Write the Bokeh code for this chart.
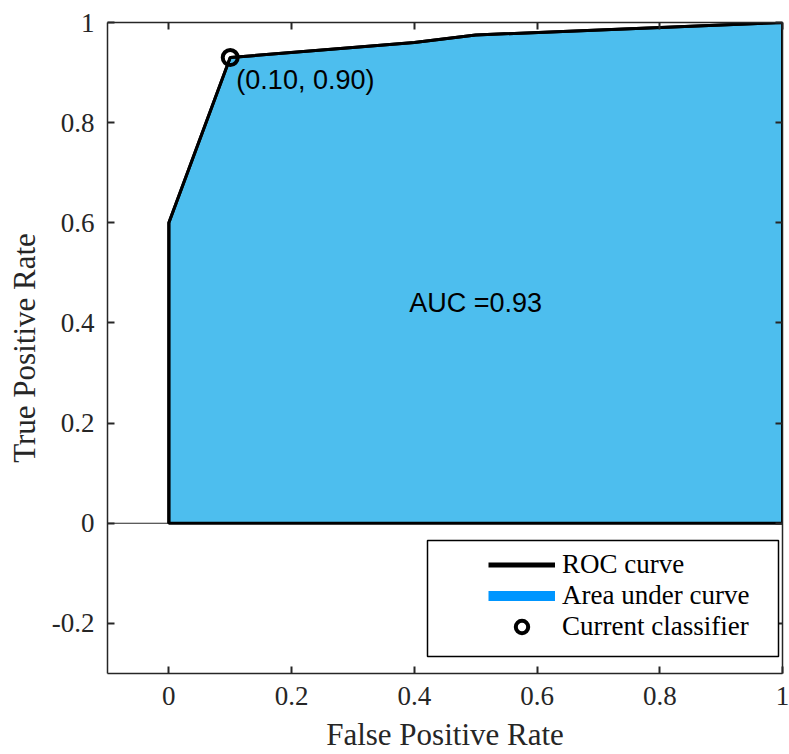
from bokeh.plotting import figure
from bokeh.models import (Range1d, LinearAxis, FixedTicker, Span, Label, Legend,
                          LegendItem, BoxAnnotation)
from bokeh.embed import file_html
from bokeh.resources import INLINE

# ---- data ----
fpr = [0.0, 0.0, 0.1, 0.4, 0.5, 1.0]
tpr = [0.0, 0.6, 0.93, 0.96, 0.975, 1.0]
cur_fpr = [0.10]
cur_tpr = [0.93]
cur_text = "(0.10, 0.90)"
auc_text = "AUC =0.93"
x_ticks = [0.0, 0.2, 0.4, 0.6, 0.8, 1.0]
x_tick_labels = ["0", "0.2", "0.4", "0.6", "0.8", "1"]
y_ticks = [-0.2, 0.0, 0.2, 0.4, 0.6, 0.8, 1.0]
y_tick_labels = ["-0.2", "0", "0.2", "0.4", "0.6", "0.8", "1"]
x_label = "False Positive Rate"
y_label = "True Positive Rate"
legend_labels = ["ROC curve", "Area under curve", "Current classifier"]

SERIF = "Liberation Serif"
SANS = "Liberation Sans"
AX = "#262626"
FILL = "#4DBEEE"

p = figure(width=789, height=754, output_backend="svg", toolbar_location=None,
           x_range=Range1d(-0.1, 1.0), y_range=Range1d(-0.3, 1.0),
           min_border_left=107, min_border_right=7, min_border_top=22,
           min_border_bottom=81, x_axis_location=None, y_axis_location=None)
p.outline_line_color = None
p.xgrid.visible = False
p.ygrid.visible = False
p.background_fill_color = "white"
p.border_fill_color = "white"


def style_axis(ax, ticks, labels, show_labels):
    ax.ticker = FixedTicker(ticks=ticks)
    ax.minor_tick_line_color = None
    ax.major_tick_in = 7
    ax.major_tick_out = 0
    ax.major_tick_line_width = 2
    ax.major_tick_line_color = AX
    ax.axis_line_color = AX
    ax.axis_line_width = 1.5
    if show_labels:
        ax.major_label_overrides = {t: l for t, l in zip(ticks, labels)}
        ax.major_label_text_font = SERIF
        ax.major_label_text_font_size = "27px"
        ax.major_label_text_color = AX
        ax.axis_label_text_font = SERIF
        ax.axis_label_text_font_size = "31px"
        ax.axis_label_text_font_style = "normal"
        ax.axis_label_text_color = AX
    else:
        ax.major_label_overrides = {t: "" for t in ticks}
        ax.major_label_standoff = 0


xb = LinearAxis(axis_label=x_label)
style_axis(xb, x_ticks, x_tick_labels, True)
xb.major_label_standoff = 13
xb.axis_label_standoff = 9
p.add_layout(xb, "below")

yl = LinearAxis(axis_label=y_label)
style_axis(yl, y_ticks, y_tick_labels, True)
yl.major_label_standoff = 13
yl.axis_label_standoff = 7
p.add_layout(yl, "left")

xt = LinearAxis()
style_axis(xt, x_ticks, x_tick_labels, False)
p.add_layout(xt, "above")

yr = LinearAxis()
style_axis(yr, y_ticks, y_tick_labels, False)
p.add_layout(yr, "right")

# area baseline
p.add_layout(Span(location=0, dimension="width", line_color=AX, line_width=1.2,
                  level="underlay"))

# area under curve (closed down to the baseline at the last fpr)
area_x = fpr + [fpr[-1]]
area_y = tpr + [0.0]
p.patch(area_x, area_y, fill_color=FILL, line_color="black", line_width=3)

p.line(fpr, tpr, line_color="black", line_width=3)
# single-point lines: draw nothing on the plot, only serve as legend keys
roc_key = p.line(fpr[:1], tpr[:1], line_color="black", line_width=5)
area_key = p.line(fpr[:1], tpr[:1], line_color="#0096FF", line_width=10)
cur = p.scatter(cur_fpr, cur_tpr, marker="circle", size=15, fill_color=None,
                line_color="black", line_width=4)

p.add_layout(Label(x=cur_fpr[0] + 0.01, y=cur_tpr[0] - 0.045, text=cur_text,
                   text_font=SANS, text_font_size="27px", text_color="black",
                   text_align="left", text_baseline="middle"))
p.add_layout(Label(x=0.5, y=0.44, text=auc_text, text_font=SANS,
                   text_font_size="27px", text_color="black",
                   text_align="center", text_baseline="middle"))

# legend frame
p.add_layout(BoxAnnotation(left=427, right=778, top=540, bottom=656,
                           left_units="canvas", right_units="canvas",
                           top_units="canvas", bottom_units="canvas",
                           fill_color="white", fill_alpha=1.0,
                           line_color="black", line_alpha=1.0, line_width=1.5))

legend = Legend(items=[LegendItem(label=legend_labels[0], renderers=[roc_key]),
                       LegendItem(label=legend_labels[1], renderers=[area_key]),
                       LegendItem(label=legend_labels[2], renderers=[cur])],
                location=(381, 31), padding=0, margin=0, spacing=0,
                glyph_width=67, glyph_height=31, label_height=31,
                label_standoff=7, label_text_font=SERIF,
                label_text_font_size="27px", label_text_color="black",
                border_line_color=None, background_fill_alpha=0.0)
p.add_layout(legend, "center")

open("out.html", "w").write(file_html(p, INLINE))
